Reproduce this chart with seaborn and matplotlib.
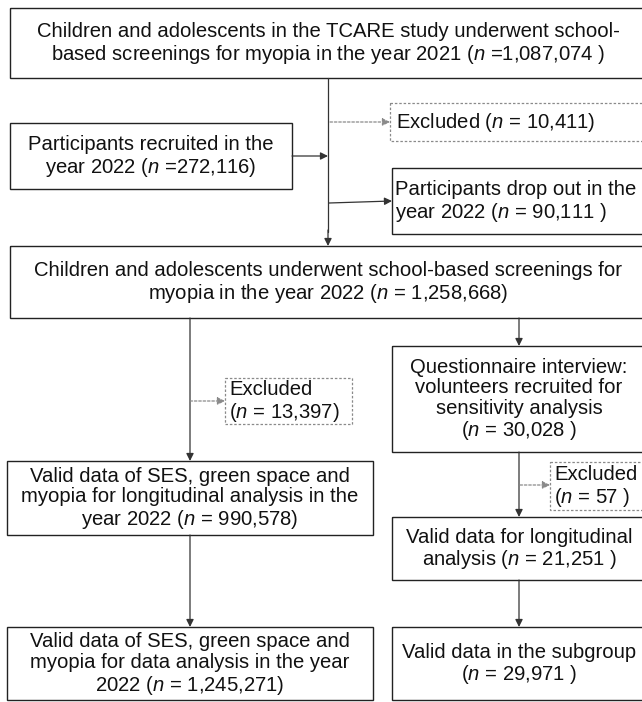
import matplotlib
matplotlib.use("Agg")
import matplotlib.pyplot as plt
import seaborn as sns
from matplotlib.patches import Rectangle

sns.set_theme(style="white")
plt.rcParams["font.family"] = ["Liberation Sans", "DejaVu Sans"]
plt.rcParams["mathtext.fontset"] = "custom"
plt.rcParams["mathtext.rm"] = "Liberation Sans"
plt.rcParams["mathtext.it"] = "Liberation Sans:italic"

# values shown in the flowchart
screen_years = [2021, 2022]
n_screened = [1087074, 1258668]
n_recruited = 272116
n_dropout = 90111
n_excluded = [10411, 13397, 57]
n_valid_main = [990578, 1245271]
n_questionnaire = 30028
n_valid_longit = 21251
n_subgroup = 29971

N = r"$\mathit{n}$"


def fmt(v):
    return f"{v:,}"


labels = {
    "top": "Children and adolescents in the TCARE study underwent school-\n"
           f"based screenings for myopia in the year {screen_years[0]} ({N} ={fmt(n_screened[0])} )",
    "recruit": f"Participants recruited in the\nyear {screen_years[1]} ({N} ={fmt(n_recruited)})",
    "exc1": f"Excluded ({N} = {fmt(n_excluded[0])})",
    "drop": f"Participants drop out in the\nyear {screen_years[1]} ({N} = {fmt(n_dropout)} )",
    "screen22": "Children and adolescents underwent school-based screenings for\n"
                f"myopia in the year {screen_years[1]} ({N} = {fmt(n_screened[1])})",
    "exc2": f"Excluded\n({N} = {fmt(n_excluded[1])})",
    "quest": "Questionnaire interview:\nvolunteers recruited for\nsensitivity analysis\n"
             f"({N} = {fmt(n_questionnaire)} )",
    "valid1": "Valid data of SES, green space and\nmyopia for longitudinal analysis in the\n"
              f"year {screen_years[1]} ({N} = {fmt(n_valid_main[0])})",
    "exc3": f"Excluded\n({N} = {fmt(n_excluded[2])} )",
    "longit": f"Valid data for longitudinal\nanalysis ({N} = {fmt(n_valid_longit)} )",
    "valid2": "Valid data of SES, green space and\nmyopia for data analysis in the year\n"
              f"{screen_years[1]} ({N} = {fmt(n_valid_main[1])})",
    "sub": f"Valid data in the subgroup\n({N} = {fmt(n_subgroup)} )",
}

# layout in pixels: x0, y0, x1, y1, text x, alignment, dashed
layout = {
    "top": (10, 8, 646, 78, 328, "center", False),
    "recruit": (10, 123, 292, 189, 151, "center", False),
    "exc1": (390, 103, 646, 141, 396, "left", True),
    "drop": (392, 168, 646, 234, 395, "left", False),
    "screen22": (10, 246, 646, 318, 328, "center", False),
    "exc2": (225, 378, 352, 424, 229, "left", True),
    "quest": (392, 346, 646, 452, 519, "center", False),
    "valid1": (7, 461, 373, 535, 190, "center", False),
    "exc3": (550, 462, 646, 510, 554, "left", True),
    "longit": (392, 517, 646, 580, 519, "center", False),
    "valid2": (7, 627, 373, 700, 190, "center", False),
    "sub": (392, 627, 646, 700, 519, "center", False),
}

fig = plt.figure(figsize=(6.42, 7.02), dpi=100)
ax = fig.add_axes([0, 0, 1, 1])
ax.set_xlim(0, 642)
ax.set_ylim(702, 0)
ax.axis("off")

line_col = "#333333"
for key, (x0, y0, x1, y1, tx, ha, dashed) in layout.items():
    if dashed:
        ax.add_patch(Rectangle((x0, y0), x1 - x0, y1 - y0, fill=False,
                               ec="#8a8a8a", lw=0.9, ls=(0, (2, 1.5))))
    else:
        ax.add_patch(Rectangle((x0, y0), x1 - x0, y1 - y0, fill=False,
                               ec="#222222", lw=1.0))
    ax.text(tx, (y0 + y1) / 2 + 1, labels[key], ha=ha, va="center",
            multialignment=ha, fontsize=14.6, color="#111111", linespacing=1.1)


def arrow(x0, y0, x1, y1, dashed=False):
    ax.annotate("", xy=(x1, y1), xytext=(x0, y0),
                arrowprops=dict(arrowstyle="-|>", color=line_col if not dashed else "#8a8a8a",
                                lw=0.9, ls=(0, (2, 1.5)) if dashed else "-",
                                mutation_scale=11, shrinkA=0, shrinkB=0))


# main trunk
ax.plot([328, 328], [78, 232], color=line_col, lw=0.9)
arrow(328, 230, 328, 246)
arrow(292, 156, 328, 156)
arrow(330, 122, 390, 122, dashed=True)
arrow(329, 203, 392, 201)

# left branch
arrow(190, 318, 190, 461)
arrow(190, 401, 225, 401, dashed=True)
arrow(190, 535, 190, 627)

# right branch
arrow(519, 318, 519, 346)
arrow(519, 452, 519, 517)
arrow(520, 485, 550, 485, dashed=True)
arrow(519, 580, 519, 627)

fig.savefig("out.png", dpi=100)
